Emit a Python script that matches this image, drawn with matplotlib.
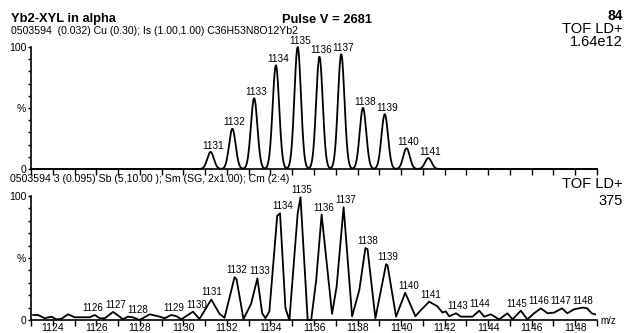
import matplotlib
matplotlib.use("Agg")
import matplotlib.pyplot as plt
import numpy as np

plt.rcParams['font.family'] = ['Liberation Sans', 'DejaVu Sans']

# theoretical isotope pattern (top trace)
model_mz = [1131.25, 1132.25, 1133.25, 1134.25, 1135.25, 1136.25,
            1137.25, 1138.25, 1139.25, 1140.25, 1141.25]
model_int = [14, 33, 58, 85, 100, 92, 94, 50, 45, 17, 9]
model_labels = ["1131", "1132", "1133", "1134", "1135", "1136",
                "1137", "1138", "1139", "1140", "1141"]
model_width = 0.15

# measured spectrum (bottom trace)
meas_mz = [1123.10, 1123.33, 1123.63, 1123.94, 1124.17, 1124.40, 1124.70,
           1125.01, 1125.70, 1125.93, 1126.16, 1126.39, 1126.77, 1127.07,
           1127.22, 1127.45, 1127.67, 1127.99, 1128.45, 1128.91, 1129.14,
           1129.44, 1129.69, 1129.90, 1130.44, 1130.74, 1131.28, 1131.66,
           1131.89, 1132.35, 1132.44, 1132.76, 1133.11, 1133.40, 1133.62,
           1133.77, 1133.95, 1134.31, 1134.44, 1134.69, 1134.87, 1135.25,
           1135.38, 1135.71, 1135.87, 1136.10, 1136.35, 1136.83, 1137.04,
           1137.36, 1137.75, 1138.08, 1138.36, 1138.46, 1138.82, 1139.31,
           1139.38, 1139.77, 1140.19, 1140.66, 1140.83, 1141.29, 1141.67,
           1141.90, 1142.05, 1142.21, 1142.52, 1142.75, 1143.28, 1143.59,
           1143.82, 1144.12, 1144.50, 1144.89, 1145.12, 1145.50, 1145.80,
           1146.11, 1146.42, 1146.73, 1147.03, 1147.39, 1147.64, 1147.94,
           1148.33, 1148.54, 1148.76, 1148.91]
meas_int = [4, 4, 1.4, 2.7, 0.5, 1, 4.6, 2.2, 2.2, 4,
            1.4, 1.4, 6.5, 2.7, 0.5, 2.7, 2.2, 0, 4.6, 2.7,
            1.4, 4, 3, 0.5, 6.7, 0.8, 16.5, 5, 1.8, 34.5,
            33, 0.8, 13, 33.6, 5.4, 1.4, 7, 84, 86, 9.4,
            0, 86, 99, 0, 0, 32, 85, 5, 27, 91,
            3, 24, 58, 57, 1.4, 45, 44, 2.7, 22, 3,
            6.5, 14.8, 11, 6, 7, 3, 5.4, 2.7, 2.7, 7.5,
            2.7, 4.6, 0.5, 5.4, 0.5, 7.5, 0.5, 5.4, 9.4, 5.4,
            6, 9.4, 5.4, 8.6, 10, 9.5, 5.4, 4.6]
meas_labels = ["1126", "1127", "1128", "1129", "1130", "1131", "1132",
               "1133", "1134", "1135", "1136", "1137", "1138", "1139",
               "1140", "1141", "1143", "1144", "1145", "1146", "1147", "1148"]
meas_label_mz = [1125.85, 1126.87, 1127.89, 1129.55, 1130.60, 1131.30,
                 1132.44, 1133.50, 1134.55, 1135.45, 1136.43, 1137.45,
                 1138.48, 1139.41, 1140.33, 1141.34, 1142.58, 1143.59,
                 1145.30, 1146.31, 1147.32, 1148.33]

x_min, x_max = 1123, 1149
W, H = 626, 333


def px_text(fig, x, y, s, **kw):
    fig.text(x / W, 1 - y / H, s, va='baseline', **kw)


def style_axis(ax, show_xlabels):
    ax.set_xlim(x_min, x_max)
    ax.set_ylim(0, 100)
    for side in ('top', 'right'):
        ax.spines[side].set_visible(False)
    for side in ('left', 'bottom'):
        ax.spines[side].set_linewidth(1.2)
    ax.set_yticks(np.arange(0, 101, 10))
    ax.set_yticklabels(["0", "", "", "", "", "%", "", "", "", "", "100"])
    ax.tick_params(axis='y', direction='out', length=2.5, width=1.0,
                   pad=1, labelsize=7.5)
    ax.set_xticks(np.arange(x_min, x_max + 1, 1))
    if show_xlabels:
        ax.set_xticklabels([str(v) if v % 2 == 0 else ""
                            for v in range(x_min, x_max + 1)])
    else:
        ax.set_xticklabels([])
    ax.tick_params(axis='x', direction='out', length=4.5, width=1.0,
                   pad=-2.5, labelsize=7.5)


fig = plt.figure(figsize=(W / 100, H / 100), dpi=100)
ax1 = fig.add_axes([31 / W, 1 - 169 / H, 566 / W, 122 / H])
ax2 = fig.add_axes([31 / W, 1 - 320 / H, 566 / W, 124 / H])

# top: isotope model
grid = np.linspace(x_min, x_max, 2601)
profile = np.zeros_like(grid)
for c, h in zip(model_mz, model_int):
    profile += h * np.exp(-0.5 * ((grid - c) / model_width) ** 2)
ax1.plot(grid, profile, color='black', lw=1.3, clip_on=False)
for lab, c, h in zip(model_labels, model_mz, model_int):
    ax1.annotate(lab, (c, h), xytext=(1.5, 1), textcoords='offset points',
                 ha='center', va='bottom', fontsize=7.2)
style_axis(ax1, False)

# bottom: measured
mz_arr = np.array(meas_mz)
int_arr = np.array(meas_int)
ax2.plot(mz_arr, int_arr, color='black', lw=1.3, clip_on=False)
for lab, c in zip(meas_labels, meas_label_mz):
    near = np.abs(mz_arr - c) <= 0.35
    h = int_arr[near].max()
    ax2.annotate(lab, (c, h), xytext=(0, 1.5), textcoords='offset points',
                 ha='center', va='bottom', fontsize=7.0)
style_axis(ax2, True)

# header texts
px_text(fig, 11, 22, "Yb2-XYL in alpha", fontsize=9.3, fontweight='bold')
px_text(fig, 11, 33.5,
        "0503594  (0.032) Cu (0.30); Is (1.00,1.00) C36H53N8O12Yb2",
        fontsize=7.6)
px_text(fig, 282, 23, "Pulse V = 2681", fontsize=9.3, fontweight='bold')
px_text(fig, 623, 20.5, "84", fontsize=10, fontweight='bold', ha='right')
px_text(fig, 623, 33, "TOF LD+", fontsize=10.5, ha='right')
px_text(fig, 623, 45.5, "1.64e12", fontsize=10.5, ha='right')
px_text(fig, 10, 182,
        "0503594 3 (0.095) Sb (5,10.00 ); Sm (SG, 2x1.00); Cm (2:4)",
        fontsize=7.6)
px_text(fig, 623, 188.5, "TOF LD+", fontsize=10.5, ha='right')
px_text(fig, 623, 205, "375", fontsize=10.5, ha='right')
px_text(fig, 600, 324, "m/z", fontsize=7)

fig.savefig("out.png", dpi=100)
